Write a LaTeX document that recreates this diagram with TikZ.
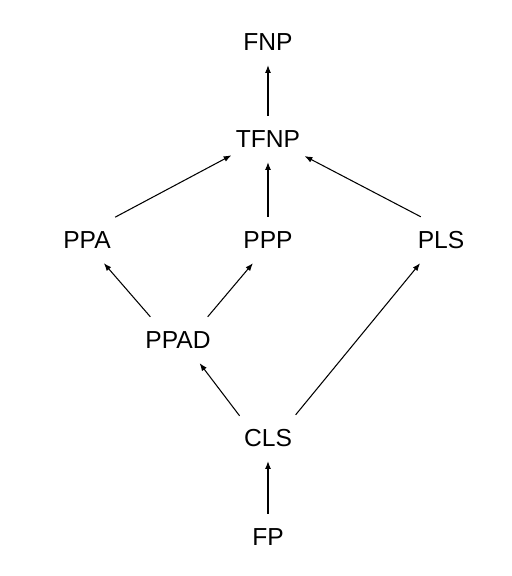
\documentclass[tikz,border=0pt]{standalone}
\usepackage{fontspec}
\setmainfont{Liberation Sans}
\usetikzlibrary{arrows.meta}

\begin{document}
\begin{tikzpicture}[cx/.style={inner xsep=3pt,inner ysep=10pt,text height=12.6pt,text depth=0pt,font=\fontsize{17.5}{20}\selectfont},arr/.style={-{Latex[length=5.5pt,width=4.2pt]},line width=0.75pt}]
        \useasboundingbox(0,0)rectangle(12.8,14.4);
        \node[cx](fnp)at(6.7,13.35){FNP};
        \node[cx](tfnp)at(6.7,10.925){TFNP};
        \node[cx](ppa)at(2.175,8.4){PPA};
        \node[cx](ppp)at(6.7,8.4){PPP};
        \node[cx](pls)at(11.025,8.4){PLS};
        \node[cx](ppad)at(4.45,5.9){PPAD};
        \node[cx](cls)at(6.7,3.45){CLS};
        \node[cx](fp)at(6.7,0.975){FP};
        \draw[arr](tfnp.north)--(fnp.south);
        \draw[arr](ppa.39)--(tfnp.204);
        \draw[arr](ppp.north)--(tfnp.south);
        \draw[arr](pls.131)--(tfnp.335);
        \draw[arr](ppad.140)--(ppa.306);
        \draw[arr](ppad.38)--(ppp.237);
        \draw[arr](cls.142)--(ppad.313);
        \draw[arr](cls.40)--(pls.228);
        \draw[arr](fp.north)--(cls.south);
\end{tikzpicture}
\end{document}
